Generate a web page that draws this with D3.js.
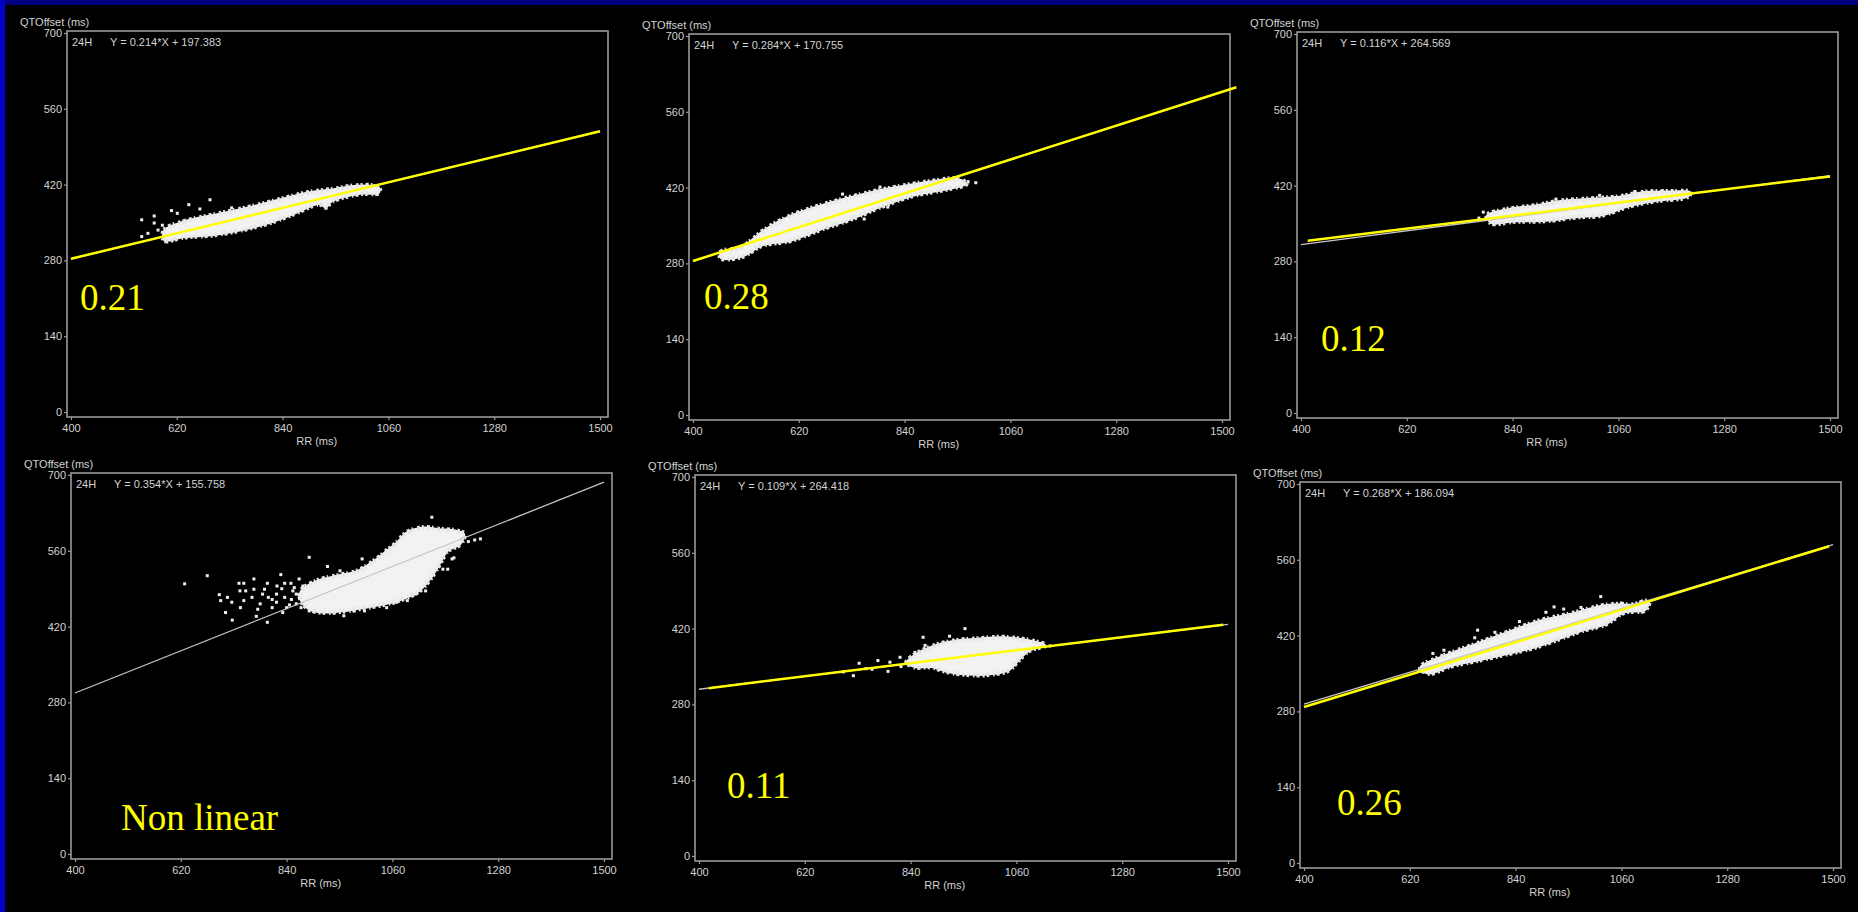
<!DOCTYPE html>
<html><head><meta charset="utf-8">
<script src="https://cdn.jsdelivr.net/npm/d3@7"></script>
<style>html,body{margin:0;padding:0;background:#000;overflow:hidden}</style>
</head><body><svg id="c" width="1858" height="912"></svg>
<script>
// ---------- data ----------
const xTicks = [400, 620, 840, 1060, 1280, 1500];
const yTicks = [0, 140, 280, 420, 560, 700];
const yTitle = "QTOffset (ms)";
const xTitle = "RR (ms)";
const periodLabel = "24H";
const slopes = [0.214, 0.284, 0.116, 0.354, 0.109, 0.268];
const intercepts = [197.383, 170.755, 264.569, 155.758, 264.418, 186.094];
const equations = [
  "Y = 0.214*X + 197.383", "Y = 0.284*X + 170.755", "Y = 0.116*X + 264.569",
  "Y = 0.354*X + 155.758", "Y = 0.109*X + 264.418", "Y = 0.268*X + 186.094"];
const annotations = ["0.21", "0.28", "0.12", "Non linear", "0.11", "0.26"];
// yellow overlay segments [RR1, QT1, RR2, QT2] (null = none)
const yellowLines = [
  [400, 283.0, 1500, 518.4],
  [400, 284.4, 1530, 605.3],
  [414, 318, 1500, 437],
  null,
  [420, 310, 1490, 427],
  [400, 288, 1492, 585]];
// dense cloud outlines [RR, QT]
const core1 = [[594,336],[636,352],[696,364],[764,377],[832,392],[891,405],[950,412],[993,418],[1040,415],[1040,405],[1001,403],[942,389],[930,378],[916,384],[866,367],[815,350],[764,338],[696,327],[636,323],[594,317]];
const core2 = [[458,301],[501,310],[552,344],[603,368],[654,384],[713,399],[772,412],[823,421],[891,431],[951,436],[968,427],[916,415],[857,405],[789,384],[730,362],[670,344],[603,322],[543,313],[501,292],[458,290]];
const core3 = [[787,365],[828,376],[886,383],[943,392],[1009,396],[1057,399],[1115,408],[1173,409],[1209,408],[1205,400],[1140,392],[1082,382],[1025,365],[976,362],[909,355],[845,354],[795,351]];
const core4 = [[870,486],[904,505],[946,514],[988,523],[1023,542],[1048,560],[1069,575],[1090,594],[1125,603],[1158,600],[1192,597],[1209,591],[1201,572],[1175,560],[1158,535],[1141,511],[1116,486],[1082,471],[1048,462],[1005,455],[963,449],[921,446],[887,452],[870,468]];
const core5 = [[832,358],[857,376],[891,389],[934,398],[976,401],[1027,404],[1069,401],[1103,395],[1120,389],[1086,379],[1061,358],[1044,343],[1001,335],[959,335],[917,340],[883,349],[849,349]];
const core6 = [[642,361],[691,383],[756,404],[822,426],[888,447],[953,460],[1019,475],[1051,478],[1084,477],[1117,484],[1109,467],[1067,463],[1027,441],[978,429],[928,413],[879,398],[822,386],[756,373],[707,364],[658,350]];
// scattered beats [RR, QT]
const pts1 = [[547,355],[547,324],[573,362],[573,349],[609,372],[621,367],[645,383],[668,375],[689,392],[734,377],[581,336],[560,330],[590,345],[620,330],[760,370],[880,395],[1010,410],[1030,418],[960,405],[700,355]];
const pts2 = [[711,408],[972,431],[988,429],[789,421],[611,365],[756,362],[805,384],[480,300],[520,318],[570,335],[640,358],[700,375],[760,395],[860,418],[920,425]];
const pts3 = [[779,371],[1021,402],[1094,409],[800,356],[770,360],[1150,410],[1190,404],[930,395],[860,380]];
const pts4 = [[628,499],[675,514],[700,479],[703,468],[713,446],[727,432],[741,500],[751,500],[743,486],[755,486],[772,508],[744,455],[777,439],[800,428],[828,516],[849,500],[866,508],[887,548],[925,531],[951,523],[959,440],[980,449],[997,545],[1014,535],[1142,622],[1243,582],[1231,580],[1218,577],[1184,545],[1188,547],[1129,486],[1069,465],[1108,480],[794,489],[802,474],[819,480],[836,474],[846,460],[832,446],[870,455],[785,462],[768,474],[751,468],[726,465],[717,474],[836,500],[874,495],[772,489],[819,465],[853,486],[1165,526],[1175,526],[1167,560],[1201,582],[1205,594],[1091,468],[1048,455],[1002,449],[904,455],[887,449],[790,480],[810,470],[830,490],[850,470],[860,480],[880,470],[810,455],[840,455],[860,462],[780,452],[800,500],[820,495],[866,478],[856,492]];
const pts5 = [[866,404],[921,406],[953,420],[818,367],[797,358],[772,361],[793,341],[733,356],[721,333],[747,346],[849,376],[870,389],[1110,392],[1130,388],[760,345],[700,340],[820,350],[1000,400]];
const pts6 = [[1017,492],[920,473],[903,463],[940,469],[976,472],[848,446],[761,430],[755,416],[797,426],[691,393],[668,387],[640,355],[1100,482],[1060,480]];
const cores = [core1, core2, core3, core4, core5, core6];
const points = [pts1, pts2, pts3, pts4, pts5, pts6];

// ---------- layout ----------
const layout = [
  {x: 67,   y: 31,  ax: 13, ay: 279},
  {x: 689,  y: 34,  ax: 15, ay: 275},
  {x: 1297, y: 32,  ax: 24, ay: 319},
  {x: 71,   y: 473, ax: 50, ay: 357},
  {x: 695,  y: 475, ax: 32, ay: 323},
  {x: 1300, y: 482, ax: 37, ay: 333}];
const W = 541, H = 386;
const GREY = "#9a9a9a", TXT = "#d2d2d2", SANS = "'Liberation Sans', Arial, sans-serif";

const svg = d3.select("#c");
svg.append("rect").attr("width", 1858).attr("height", 912).attr("fill", "#000");
svg.append("rect").attr("width", 1858).attr("height", 5).attr("fill", "#000080");
svg.append("rect").attr("width", 5).attr("height", 912).attr("fill", "#0000c8");

layout.forEach((L, i) => {
  const g = svg.append("g").attr("transform", `translate(${L.x},${L.y})`);
  const x = d3.scaleLinear().domain([400, 1500]).range([4, 533]);
  const y = d3.scaleLinear().domain([0, 700]).range([381, 2]);

  // frame
  g.append("rect").attr("width", W).attr("height", H)
    .attr("fill", "none").attr("stroke", GREY).attr("stroke-width", 1.6);

  // axes
  const fmt = d3.format("d");
  const xa = g.append("g").attr("transform", `translate(0,${H})`)
    .call(d3.axisBottom(x).tickValues(xTicks).tickFormat(fmt).tickSize(3).tickPadding(4));
  const ya = g.append("g")
    .call(d3.axisLeft(y).tickValues(yTicks).tickFormat(fmt).tickSize(3).tickPadding(2));
  [xa, ya].forEach(a => {
    a.select(".domain").remove();
    a.selectAll("line").attr("stroke", GREY).attr("stroke-width", 1.2);
    a.selectAll("text").attr("fill", TXT).style("font-family", SANS).style("font-size", "11px");
  });

  // titles
  g.append("text").attr("x", -47).attr("y", -5).text(yTitle)
    .attr("fill", TXT).style("font-family", SANS).style("font-size", "11px");
  g.append("text").attr("x", x(911)).attr("y", H + 28).attr("text-anchor", "middle").text(xTitle)
    .attr("fill", TXT).style("font-family", SANS).style("font-size", "11px");
  g.append("text").attr("x", 5).attr("y", 15).text(periodLabel)
    .attr("fill", TXT).style("font-family", SANS).style("font-size", "11px");
  g.append("text").attr("x", 43).attr("y", 15).text(equations[i])
    .attr("fill", TXT).style("font-family", SANS).style("font-size", "11px");

  // cloud: dense core + ragged dotted rim + individual beats
  const line = d3.line().x(d => x(d[0])).y(d => y(d[1])).curve(d3.curveCatmullRomClosed);
  g.append("path").datum(cores[i]).attr("d", line)
    .attr("fill", "#f2f2f2").attr("stroke", "#eeeeee").attr("stroke-width", 2)
    .attr("stroke-linejoin", "round");
  g.append("path").datum(cores[i]).attr("d", line)
    .attr("fill", "none").attr("stroke", "#e6e6e6").attr("stroke-width", 5)
    .attr("stroke-dasharray", "2,3,3,2,1.5,4,2.5,2");
  g.selectAll("rect.pt").data(points[i]).join("rect").attr("class", "pt")
    .attr("x", d => x(d[0]) - 1.5).attr("y", d => y(d[1]) - 1.5)
    .attr("width", 3).attr("height", 3).attr("fill", "#eeeeee");

  // regression line (grey)
  g.append("line")
    .attr("x1", x(400)).attr("y1", y(slopes[i] * 400 + intercepts[i]))
    .attr("x2", x(1500)).attr("y2", y(slopes[i] * 1500 + intercepts[i]))
    .attr("stroke", "#c4c4c4").attr("stroke-width", 1.3);

  // yellow overlay
  const yl = yellowLines[i];
  if (yl) {
    g.append("line").attr("x1", x(yl[0])).attr("y1", y(yl[1]))
      .attr("x2", x(yl[2])).attr("y2", y(yl[3]))
      .attr("stroke", "#ffff00").attr("stroke-width", 2.5);
  }

  // annotation
  g.append("text").attr("x", L.ax).attr("y", L.ay).text(annotations[i])
    .attr("fill", "#ffff00").style("font-family", "'Liberation Serif', 'Times New Roman', serif")
    .style("font-size", "37px");
});
</script></body></html>
